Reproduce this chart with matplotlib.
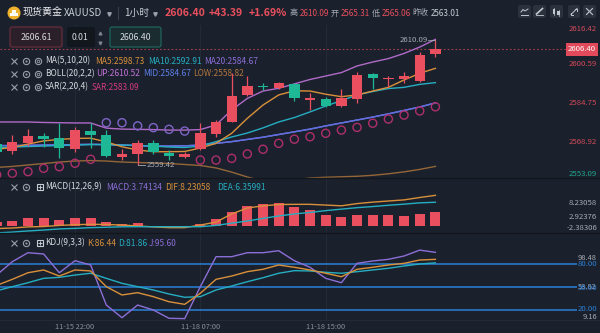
import numpy as np
import matplotlib
matplotlib.use("Agg")
import matplotlib.pyplot as plt
from matplotlib.patches import FancyBboxPatch, Circle, Rectangle
from matplotlib.transforms import blended_transform_factory

plt.rcParams['font.family'] = ['Noto Sans CJK SC', 'DejaVu Sans']

# ---------------- data ----------------
times = ["11-15 17:00", "11-15 18:00", "11-15 19:00", "11-15 20:00", "11-15 21:00",
         "11-15 22:00", "11-15 23:00", "11-16 00:00", "11-16 01:00", "11-16 02:00",
         "11-16 03:00", "11-16 04:00", "11-16 05:00", "11-18 07:00", "11-18 08:00",
         "11-18 09:00", "11-18 10:00", "11-18 11:00", "11-18 12:00", "11-18 13:00",
         "11-18 14:00", "11-18 15:00", "11-18 16:00", "11-18 17:00", "11-18 18:00",
         "11-18 19:00", "11-18 20:00", "11-18 21:00", "11-18 22:00"]
tick_idx = [5, 13, 21]

opens = [2567.9, 2565.2, 2568.5, 2571.2, 2570.3, 2565.8, 2573.4, 2571.6, 2562.5, 2563.9,
         2568.5, 2564.4, 2562.8, 2565.8, 2572.0, 2577.0, 2587.9, 2591.5, 2590.6, 2592.4,
         2585.8, 2586.3, 2583.4, 2586.3, 2596.3, 2594.4, 2594.4, 2593.6, 2604.4]
highs = [2568.5, 2571.6, 2573.9, 2572.3, 2576.4, 2575.0, 2576.4, 2573.6, 2565.8, 2569.6,
         2569.6, 2565.5, 2564.8, 2576.4, 2577.7, 2596.7, 2595.6, 2592.6, 2593.3, 2592.6,
         2588.6, 2587.2, 2590.2, 2597.4, 2597.0, 2595.6, 2597.4, 2605.5, 2610.09]
lows = [2563.8, 2563.9, 2567.1, 2566.8, 2562.1, 2564.8, 2566.2, 2562.8, 2561.4, 2559.42,
        2563.9, 2561.4, 2562.1, 2565.5, 2570.7, 2576.8, 2587.6, 2589.9, 2590.2, 2585.6,
        2581.8, 2583.1, 2582.9, 2584.5, 2590.2, 2591.3, 2592.6, 2593.3, 2603.2]
closes = [2564.6, 2568.9, 2571.2, 2569.9, 2566.2, 2573.6, 2571.6, 2563.1, 2563.9, 2568.2,
          2564.8, 2563.1, 2563.9, 2572.3, 2577.0, 2587.5, 2591.5, 2591.0, 2592.6, 2586.5,
          2586.5, 2583.4, 2586.5, 2596.0, 2594.7, 2594.9, 2595.6, 2604.2, 2606.40]

ma5 = [2565.8, 2566.5, 2567.9, 2569.2, 2569.8, 2570.2, 2570.3, 2568.8, 2566.8, 2565.5,
       2564.8, 2564.8, 2564.9, 2566.3, 2568.2, 2572.3, 2578.4, 2583.8, 2587.9, 2589.6,
       2589.5, 2588.2, 2587.2, 2587.9, 2589.5, 2591.0, 2594.0, 2596.7, 2598.73]
ma10 = [2566.5, 2566.7, 2566.9, 2567.1, 2567.3, 2567.5, 2567.7, 2567.7, 2567.5, 2567.3,
        2567.1, 2566.7, 2566.5, 2567.1, 2568.9, 2570.8, 2572.4, 2574.5, 2576.9, 2578.7,
        2581.0, 2583.4, 2585.6, 2587.9, 2589.3, 2590.5, 2591.0, 2592.2, 2592.91]
boll_up = [2576.9, 2576.9, 2576.9, 2576.7, 2576.6, 2576.5, 2576.5, 2574.4, 2574.0, 2573.9,
           2573.8, 2573.6, 2573.6, 2573.8, 2575.7, 2581.8, 2586.5, 2589.5, 2590.6, 2592.4,
           2594.2, 2595.6, 2597.0, 2599.7, 2601.3, 2602.7, 2604.8, 2607.4, 2610.52]
boll_mid = [2567.3, 2567.3, 2567.4, 2567.5, 2567.6, 2567.7, 2567.8, 2567.7, 2567.5, 2567.3,
            2567.1, 2567.1, 2567.2, 2567.5, 2568.2, 2568.9, 2569.8, 2570.7, 2571.8, 2572.9,
            2574.0, 2575.3, 2576.5, 2577.7, 2578.9, 2580.2, 2581.6, 2583.0, 2584.67]
boll_low = [2558.4, 2558.8, 2559.4, 2560.0, 2560.6, 2561.0, 2561.2, 2561.0, 2560.6, 2560.4,
            2560.2, 2560.0, 2559.6, 2559.2, 2558.2, 2556.5, 2554.5, 2552.9, 2552.5, 2553.3,
            2554.1, 2554.4, 2554.6, 2554.8, 2555.2, 2555.8, 2556.6, 2557.6, 2558.82]
ma20 = boll_mid
sar = [2555.4, 2556.0, 2556.7, 2558.05, 2558.7, 2560.1, 2561.7, 2576.6, 2576.6, 2575.3,
       2574.6, 2573.9, 2573.2, 2561.4, 2561.4, 2562.1, 2563.9, 2565.8, 2568.2, 2569.9,
       2570.9, 2572.3, 2573.6, 2574.7, 2576.4, 2578.1, 2579.7, 2581.4, 2583.09]

macd_hist = [1.0, 1.35, 2.08, 2.08, 1.62, 2.24, 2.24, 1.0, 0.46, 0.62,
             0.05, -0.1, -0.05, 0.46, 1.89, 3.70, 5.4, 5.86, 6.2, 5.2,
             4.3, 2.97, 2.35, 2.97, 2.97, 2.8, 2.6, 3.2, 3.74134]
dif = [-0.75, -0.6, -0.3, -0.2, 0.1, 0.3, 0.4, 0.35, 0.2, -0.05,
       -0.3, -0.5, -0.5, 0.2, 1.0, 3.2, 4.8, 5.4, 5.75, 5.8,
       5.8, 5.6, 5.4, 6.0, 6.4, 6.7, 7.0, 7.65, 8.23058]
dea = [-1.95, -1.7, -1.4, -1.15, -0.85, -0.7, -0.5, -0.4, -0.27, -0.25,
       -0.25, -0.25, -0.25, -0.25, 0.1, 0.7, 1.3, 2.0, 2.65, 3.2,
       3.6, 4.1, 4.5, 4.9, 5.2, 5.55, 5.85, 6.2, 6.35991]

kdj_k = [52.5, 60.4, 69, 72.6, 64.7, 72.6, 71.3, 50.8, 40, 43,
         37.8, 31.2, 27.8, 42.2, 60.4, 64.7, 70.4, 73.5, 79.1, 76.1,
         72.6, 68.3, 63.8, 73.5, 76.1, 79.1, 81.3, 85.6, 86.44]
kdj_d = [45.5, 50.8, 56, 61.7, 63, 66, 68.3, 61.7, 55.2, 50.8,
         46.5, 41.3, 37, 37.8, 46.5, 51.7, 57.3, 62.5, 68.3, 71.7,
         71.3, 69.6, 68.3, 70.4, 72.6, 74.8, 77.8, 80.4, 81.86]
kdj_j = [66, 83.4, 95.1, 93.4, 69, 84.7, 79.1, 26.9, 10.4, 26.9,
         20.4, 9.6, 9.16, 50.8, 89.9, 89.9, 95.1, 95.1, 97.7, 84.7,
         76.1, 61.7, 56, 81.3, 84.3, 86.5, 90.8, 98.48, 95.60]
kdj_levels = [80, 50, 20]

price_ticks = [2616.42, 2600.59, 2584.75, 2568.92, 2553.09]
macd_ticks = ["8.23058", "2.92376", "-2.38306"]
prev_close = 2563.01
last_price = 2606.40

# ---------------- style ----------------
BG = '#1b212c'
RED = '#e94f5e'
GREEN = '#1fb896'
ORANGE = '#d9903a'
TEAL = '#25aec2'
PURPLE = '#8c6ed8'
UPC = '#b06ac8'
MIDC = '#5b70e2'
LOWC = '#946638'
SARC = '#d23a80'
GRID = '#242b37'
TXT = '#d6d9df'
GRAY = '#a6abb5'
LVL = '#2a80d8'

W, H = 600, 333
fig = plt.figure(figsize=(6, 3.33), dpi=100, facecolor=BG)


def px_ax(top, bottom):
    return fig.add_axes([0, 1 - bottom / H, 1, (bottom - top) / H])


# candle index -> pixel: 12.3 + 15.67 * (i - 1)
X0, DX = 12.3, 15.67
def idx_of(px):
    return 1 + (px - X0) / DX

xl = (idx_of(0), idx_of(W))
x = np.arange(len(closes))

o, h, l, c = map(np.asarray, (opens, highs, lows, closes))

# -------- main price panel --------
axm = px_ax(25, 178)
axm.set_xlim(*xl)
axm.set_ylim(2554.10, 2616.37)
axm.axis('off')
for t in tick_idx:
    axm.axvline(t, color=GRID, lw=0.8, zorder=0)

up = c >= o
cols = np.where(up, RED, GREEN)
axm.vlines(x, l, h, colors=cols, lw=0.9, zorder=3)
axm.bar(x, np.maximum(np.abs(c - o), 0.35), bottom=np.minimum(o, c), width=0.66,
        color=cols, linewidth=0, zorder=4)

axm.plot(x, boll_up, color=UPC, lw=1.0, zorder=2)
axm.plot(x, boll_low, color=LOWC, lw=1.0, zorder=2)
axm.plot(x, ma20, color=PURPLE, lw=1.0, zorder=2)
axm.plot(x, boll_mid, color=MIDC, lw=1.0, zorder=2)
axm.plot(x, ma10, color=TEAL, lw=1.0, zorder=2)
axm.plot(x, ma5, color=ORANGE, lw=1.0, zorder=2)

sar_a = np.asarray(sar)
sar_cols = np.where(sar_a > c, '#7f64c8', '#ad2f6c')
axm.scatter(x, sar_a, s=34, facecolors='none', edgecolors=sar_cols, linewidths=1.0, zorder=5)

axm.hlines(last_price, xl[0], idx_of(566), colors='#a53f4e', lw=0.8,
           linestyles=(0, (1.5, 2)), zorder=1)

# high / low annotations
ih = int(np.argmax(h)); il = int(np.argmin(l))
axm.plot([ih, ih - 0.45], [h[ih], h[ih] - 0.15], color=GRAY, lw=0.6, zorder=6)
axm.text(ih - 0.5, h[ih], f"{h[ih]:.2f}", color=GRAY, fontsize=5.6, ha='right', va='center', zorder=6)
axm.plot([il, il + 0.45], [l[il], l[il]], color=GRAY, lw=0.6, zorder=6)
axm.text(il + 0.55, l[il], f"{l[il]:.2f}", color=GRAY, fontsize=5.6, ha='left', va='center', zorder=6)

trm = blended_transform_factory(axm.transAxes, axm.transData)
ytop, ybot = axm.get_ylim()[1], axm.get_ylim()[0]
for v in price_ticks:
    colr = '#d2495a' if v >= prev_close else '#1fa68a'
    if v >= ytop:
        yy, va = ytop, 'top'
    elif v <= ybot:
        yy, va = ybot, 'bottom'
    else:
        yy, va = v, 'center'
    axm.text(597 / W, yy, f"{v:.2f}", transform=trm, color=colr, fontsize=5.6,
             ha='right', va=va, zorder=7)
axm.text(582 / W, last_price, f"{last_price:.2f}", transform=trm, color='white', fontsize=5.6,
         ha='center', va='center', zorder=8,
         bbox=dict(boxstyle='square,pad=0.3', fc='#e04a5a', ec='none'))

# -------- MACD panel --------
axd = px_ax(178, 233)
axd.set_xlim(*xl)
axd.set_ylim(-1.95, 12.92)
axd.axis('off')
for t in tick_idx:
    axd.axvline(t, color=GRID, lw=0.8, zorder=0)
hist = np.asarray(macd_hist)
axd.bar(x, hist, width=0.64, color=np.where(hist >= 0, RED, GREEN), linewidth=0, zorder=2)
axd.plot(x, dif, color=ORANGE, lw=1.0, zorder=3)
axd.plot(x, dea, color=TEAL, lw=1.0, zorder=3)

# -------- KDJ panel --------
axk = px_ax(233, 320)
axk.set_xlim(*xl)
axk.set_ylim(7.38, 120.8)
axk.axis('off')
for t in tick_idx:
    axk.axvline(t, color=GRID, lw=0.8, zorder=0)
axk.hlines(kdj_levels, xl[0], idx_of(577), colors=LVL, lw=1.1, zorder=1)
axk.plot(x, kdj_j, color=PURPLE, lw=1.0, zorder=2)
axk.plot(x, kdj_d, color=TEAL, lw=1.0, zorder=3)
axk.plot(x, kdj_k, color=ORANGE, lw=1.0, zorder=4)
trk = blended_transform_factory(axk.transData, axk.transAxes)
for t in tick_idx:
    axk.text(t, -0.075, times[t], transform=trk, color='#8a909b', fontsize=5.3,
             ha='center', va='center')

# -------- overlay: header, legends, axis labels --------
ov = fig.add_axes([0, 0, 1, 1], facecolor='none')
ov.set_xlim(0, W)
ov.set_ylim(H, 0)
ov.axis('off')


def T(xp, yp, s, color=TXT, size=6.0, ha='left', weight='normal'):
    ov.text(xp, yp, s, color=color, fontsize=size, ha=ha, va='center', fontweight=weight)


# panel separators
for yy in (178, 233):
    ov.plot([0, W], [yy, yy], color='#11151c', lw=1.0)
ov.plot([0, W], [320, 320], color='#262c38', lw=0.6)

# header row
ov.add_patch(Circle((14, 13), 6.5, fc='#f0b22c', ec='none'))
ov.add_patch(Rectangle((10.3, 13.3), 3.4, 2.6, fc='white', ec='none'))
ov.add_patch(Rectangle((14.3, 13.3), 3.4, 2.6, fc='white', ec='none'))
ov.add_patch(Rectangle((12.3, 10.0), 3.4, 2.6, fc='white', ec='none'))
T(23, 13, "现货黄金", color='#eceef2', size=7.2)
T(64, 13, "XAUUSD", color='#c9cdd5', size=7.0)
ov.plot([108.5], [13.5], marker='v', ms=2.5, color='#9aa0aa')
ov.plot([117.5, 117.5], [7, 19], color='#3a414d', lw=0.8)
T(124, 13, "1小时", color='#c9cdd5', size=7.0)
ov.plot([155], [13.5], marker='v', ms=2.5, color='#9aa0aa')
T(165, 13, "2606.40", color=RED, size=7.6, weight='bold')
T(209, 13, "+43.39", color=RED, size=7.6, weight='bold')
T(249, 13, "+1.69%", color=RED, size=7.6, weight='bold')
T(289, 13, "高", color=GRAY, size=5.8)
T(300, 13, "2610.09", color=RED, size=5.8)
T(331, 13, "开", color=GRAY, size=5.8)
T(341, 13, "2565.31", color=RED, size=5.8)
T(372, 13, "低", color=GRAY, size=5.8)
T(382, 13, "2565.06", color=RED, size=5.8)
T(412, 13, "昨收", color=GRAY, size=5.8)
T(431, 13, "2563.01", color='#c9cdd5', size=5.8)

# toolbar buttons
btns = [(518, 531), (533, 546), (550, 563), (568, 580), (583, 596)]
for (a, b) in btns:
    ov.add_patch(FancyBboxPatch((a, 5), b - a, 13, boxstyle='round,pad=0,rounding_size=2',
                                fc='#2b323e', ec='none'))
ic = '#c3c8d0'
ov.plot([521, 523, 525, 528], [12, 9.5, 11, 9], color=ic, lw=0.7)
ov.plot([521, 528], [14.5, 14.5], color=ic, lw=0.7)
ov.plot([536.5, 542.5], [14, 8.5], color=ic, lw=1.2)
ov.plot([536, 543], [15.3, 15.3], color=ic, lw=0.6)
ov.add_patch(Rectangle((553.2, 9), 2.2, 4.5, fc=ic, ec='none'))
ov.add_patch(Rectangle((557.4, 10.5), 2.2, 4.5, fc=ic, ec='none'))
ov.plot([554.3, 554.3], [8, 14.5], color=ic, lw=0.5)
ov.plot([558.5, 558.5], [9.5, 16], color=ic, lw=0.5)
ov.plot([571, 577], [14.5, 8.5], color=ic, lw=0.7)
ov.plot([577, 577, 575], [10.5, 8.5, 8.5], color=ic, lw=0.7)
ov.plot([571, 571, 573], [12.5, 14.5, 14.5], color=ic, lw=0.7)
ov.plot([586.5, 592.5], [8.5, 14.5], color=ic, lw=0.8)
ov.plot([586.5, 592.5], [14.5, 8.5], color=ic, lw=0.8)

# order boxes
ov.add_patch(FancyBboxPatch((10, 27), 52, 20, boxstyle='round,pad=0,rounding_size=2',
                            fc='#2b1f29', ec='#6f2f3d', lw=0.8))
T(36, 37.5, "2606.61", size=6.3, ha='center')
ov.add_patch(FancyBboxPatch((67, 27), 28, 20, boxstyle='round,pad=0,rounding_size=2',
                            fc='#12171e', ec='none'))
T(80, 37.5, "0.01", size=6.3, ha='center')
ov.plot([99.5], [32.5], marker='^', ms=2, color='#7d838d')
ov.plot([99.5], [43], marker='v', ms=2, color='#7d838d')
ov.add_patch(FancyBboxPatch((110, 27), 51, 20, boxstyle='round,pad=0,rounding_size=2',
                            fc='#1a2c2f', ec='#1f6b61', lw=0.8))
T(135.5, 37.5, "2606.40", size=6.3, ha='center')


def icons(yp, third='eye'):
    ov.plot([13.5], [yp], marker='x', ms=4, mew=0.8, color='#9aa0aa')
    ov.plot([26], [yp], marker='o', ms=4.5, mfc='none', mew=0.8, color='#9aa0aa')
    ov.plot([26], [yp], marker='o', ms=1.5, mew=0, color='#9aa0aa')
    if third == 'eye':
        ov.plot([37.5], [yp], marker='o', ms=4.5, mfc='none', mew=0.8, color='#9aa0aa')
        ov.plot([37.5], [yp], marker='o', ms=1.8, mfc='none', mew=0.6, color='#9aa0aa')
    else:
        ov.plot([39.5], [yp], marker='s', ms=4.5, mfc='none', mew=0.8, color='#c8ccd4')
        ov.plot([39.5], [yp], marker='+', ms=3.5, mew=0.7, color='#c8ccd4')


LS = 6.0
icons(61)
T(45, 61, "MA(5,10,20)", size=LS)
T(95, 61, f"MA5:{ma5[-1]:.2f}", color=ORANGE, size=LS)
T(148, 61, f"MA10:{ma10[-1]:.2f}", color=TEAL, size=LS)
T(204, 61, f"MA20:{ma20[-1]:.2f}", color=PURPLE, size=LS)
icons(74)
T(45, 74, "BOLL(20,2,2)", size=LS)
T(96, 74, f"UP:{boll_up[-1]:.2f}", color='#c272d8', size=LS)
T(143, 74, f"MID:{boll_mid[-1]:.2f}", color='#5d7fe8', size=LS)
T(193, 74, f"LOW:{boll_low[-1]:.2f}", color='#b3763e', size=LS)
icons(87)
T(45, 87, "SAR(2,20,4)", size=LS)
T(92, 87, f"SAR:{sar[-1]:.2f}", color=SARC, size=LS)

icons(187, third='box')
T(45, 187, "MACD(12,26,9)", size=LS)
T(106, 187, f"MACD:{macd_hist[-1]:.5f}", color=PURPLE, size=LS)
T(165, 187, f"DIF:{dif[-1]:.5f}", color=ORANGE, size=LS)
T(217, 187, f"DEA:{dea[-1]:.5f}", color=TEAL, size=LS)

icons(243, third='box')
T(45, 243, "KDJ(9,3,3)", size=LS)
T(87, 243, f"K:{kdj_k[-1]:.2f}", color=ORANGE, size=LS)
T(118, 243, f"D:{kdj_d[-1]:.2f}", color=TEAL, size=LS)
T(149, 243, f"J:{kdj_j[-1]:.2f}", color=PURPLE, size=LS)

# MACD axis labels
for s, yp in zip(macd_ticks, (203.3, 216.7, 227.7)):
    T(597, yp, s, color=GRAY, size=5.6, ha='right')

# KDJ axis labels
jmax, jmin = max(kdj_j), min(kdj_j)
T(597, 257.5, f"{jmax:.2f}", color=GRAY, size=5.4, ha='right')
T(597, 287, f"{(jmax + jmin) / 2:.2f}", color=GRAY, size=5.4, ha='right')
T(597, 317, f"{jmin:.2f}", color=GRAY, size=5.4, ha='right')
for v, yp in zip(kdj_levels, (264.5, 288, 309)):
    T(597, yp, f"{v:.2f}", color=LVL, size=5.6, ha='right')

fig.savefig("out.png", dpi=100, facecolor=BG)
